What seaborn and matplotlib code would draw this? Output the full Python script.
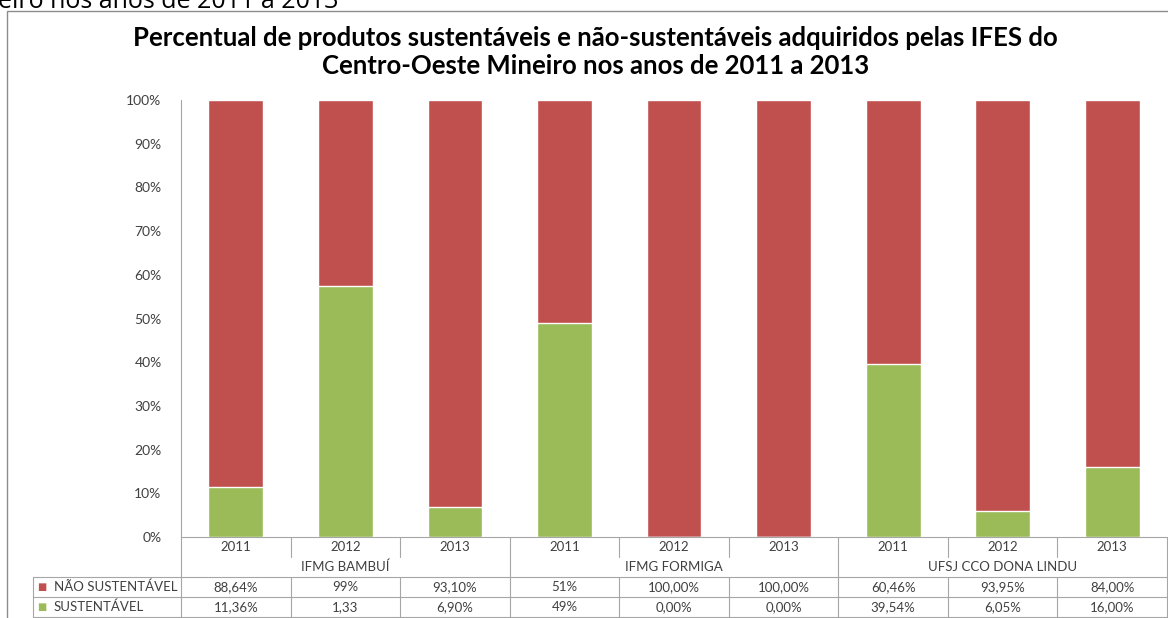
import matplotlib
matplotlib.use("Agg")
import matplotlib.pyplot as plt
import matplotlib.transforms as mtransforms
from matplotlib.patches import Rectangle
from matplotlib.lines import Line2D
import numpy as np
import pandas as pd
import seaborn as sns

sns.set_theme(style="white")
plt.rcParams["font.family"] = ["Lato", "DejaVu Sans"]

# ---------------------------------------------------------------------------
# data (as typed in the original spreadsheet)
# ---------------------------------------------------------------------------
institutions = ["IFMG BAMBUÍ", "IFMG FORMIGA", "UFSJ CCO DONA LINDU"]
years = ["2011", "2012", "2013"]
nao_sustentavel = [0.8864, 0.99, 0.931, 0.51, 1.00, 1.00, 0.6046, 0.9395, 0.84]
sustentavel = [0.1136, 1.33, 0.069, 0.49, 0.00, 0.00, 0.3954, 0.0605, 0.16]
nao_labels = ["88,64%", "99%", "93,10%", "51%", "100,00%", "100,00%",
              "60,46%", "93,95%", "84,00%"]
sust_labels = ["11,36%", "1,33", "6,90%", "49%", "0,00%", "0,00%",
               "39,54%", "6,05%", "16,00%"]
series_names = ["NÃO SUSTENTÁVEL", "SUSTENTÁVEL"]

RED = "#C0504D"
GREEN = "#9BBB59"
GRID = "#A6A6A6"
TXT = "#404040"
FS = 9.5

df = pd.DataFrame({
    "inst": np.repeat(institutions, len(years)),
    "year": years * len(institutions),
    "nao": nao_sustentavel,
    "sust": sustentavel,
})
df["key"] = df["inst"] + " " + df["year"]
total = df["nao"] + df["sust"]
df["sust_pct"] = df["sust"] / total * 100
df["top_pct"] = (df["nao"] + df["sust"]) / total * 100

# ---------------------------------------------------------------------------
# figure
# ---------------------------------------------------------------------------
W, H = 1168, 618
fig = plt.figure(figsize=(W / 100, H / 100), dpi=100)
ax = fig.add_axes([181 / W, (H - 537) / H, (1167 - 181) / W, (537 - 100) / H])

order = list(df["key"])
sns.barplot(data=df, x="key", y="top_pct", order=order, color=RED,
            width=0.5, saturation=1, ax=ax, zorder=2)
sns.barplot(data=df, x="key", y="sust_pct", order=order, color=GREEN,
            width=0.5, saturation=1, ax=ax, zorder=3)

ax.set_xlim(-0.5, len(order) - 0.5)
ax.set_ylim(0, 100)
ax.set_yticks(np.arange(0, 101, 10))
ax.set_yticklabels([f"{v}%" for v in range(0, 101, 10)], fontsize=10, color=TXT)
ax.tick_params(axis="y", length=0, pad=14)
ax.set_xticks([])
ax.set_xlabel("")
ax.set_ylabel("")
for s in ["top", "right"]:
    ax.spines[s].set_visible(False)
for s in ["left", "bottom"]:
    ax.spines[s].set_color(GRID)
    ax.spines[s].set_linewidth(0.8)

# ---------------------------------------------------------------------------
# data table under the plot (x in data units, y in pixels below the axis)
# ---------------------------------------------------------------------------
ax_h_px = 537 - 100
px = lambda p: -p / ax_h_px
tr = mtransforms.blended_transform_factory(ax.transData, ax.transAxes)
n = len(order)
label_left = -0.5 - (181 - 33) / ((1167 - 181) / n)


def hline(x0, x1, y):
    ax.add_line(Line2D([x0, x1], [y, y], transform=tr, color=GRID,
                       lw=0.8, clip_on=False))


def vline(x, y0, y1):
    ax.add_line(Line2D([x, x], [y0, y1], transform=tr, color=GRID,
                       lw=0.8, clip_on=False))


hline(label_left, n - 0.5, px(40))
hline(label_left, n - 0.5, px(60))
hline(label_left, n - 0.5, px(80))
vline(label_left, px(40), px(80))
vline(-0.5, 0, px(80))
vline(n - 0.5, 0, px(80))
for i in range(1, n):
    if i % len(years) == 0:
        vline(i - 0.5, 0, px(80))
    else:
        vline(i - 0.5, 0, px(20))
        vline(i - 0.5, px(40), px(80))

for i, row in df.iterrows():
    ax.text(i, px(10), row["year"], transform=tr, ha="center", va="center",
            fontsize=FS, color=TXT)
    ax.text(i, px(50), nao_labels[i], transform=tr, ha="center",
            va="center", fontsize=FS, color=TXT)
    ax.text(i, px(70), sust_labels[i], transform=tr, ha="center",
            va="center", fontsize=FS, color=TXT)
for g, name in enumerate(institutions):
    ax.text(g * len(years) + 1, px(30), name, transform=tr, ha="center",
            va="center", fontsize=FS, color=TXT)

for k, (name, col) in enumerate(zip(series_names, [RED, GREEN])):
    yc = px(50 + 20 * k)
    ax.text(label_left + 0.035, yc, "■", transform=tr, ha="left",
            va="center", fontsize=7, color=col,
            fontfamily=["DejaVu Sans"])
    ax.text(label_left + 0.19, yc, name, transform=tr, ha="left",
            va="center", fontsize=FS, color=TXT)

# ---------------------------------------------------------------------------
# titles and chart frame
# ---------------------------------------------------------------------------
fig.text(0.51, 1 - 52 / H,
         "Percentual de produtos sustentáveis e não-sustentáveis adquiridos pelas IFES do\n"
         "Centro-Oeste Mineiro nos anos de 2011 a 2013",
         ha="center", va="center", fontsize=18.5, fontweight="bold",
         color="black", linespacing=1.25)

fig.text(-0.002, 1 - 8 / H, "eiro nos anos de 2011 a 2013", ha="left",
         va="baseline", fontsize=18, color="black",
         fontfamily=["Open Sans", "DejaVu Sans"])

fig.add_artist(Rectangle((7 / W, -0.05), 1.1, 1 - 11 / H + 0.05,
                         transform=fig.transFigure, fill=False,
                         edgecolor="#8C8C8C", lw=1.0, clip_on=False))

fig.savefig("out.png", dpi=100)
